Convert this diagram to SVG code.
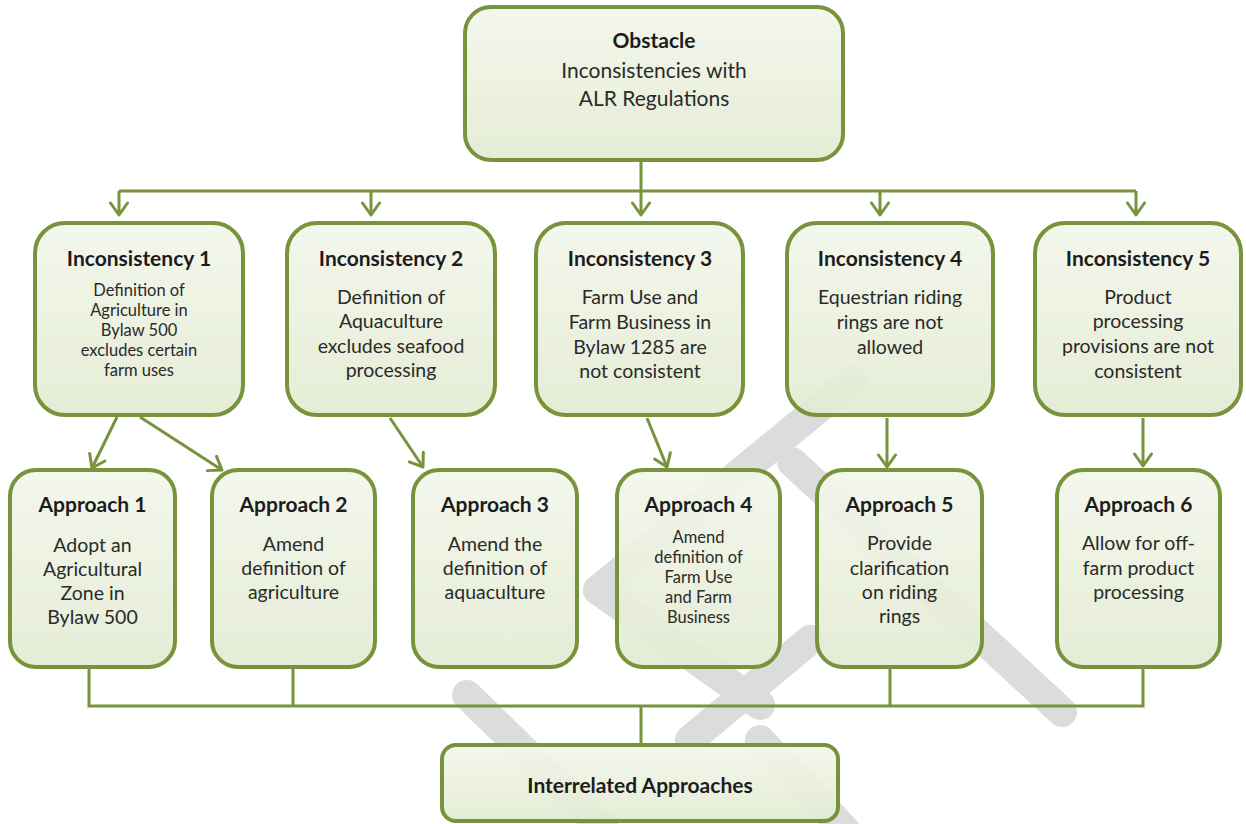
<svg xmlns="http://www.w3.org/2000/svg" width="1246" height="824" viewBox="0 0 1246 824">
<defs>
  <linearGradient id="fillG" x1="0" y1="0" x2="0" y2="1">
    <stop offset="0" stop-color="#f3f6eb"/>
    <stop offset="1" stop-color="#e3ebd2"/>
  </linearGradient>
  <marker id="arr" viewBox="-15 -11 17 22" refX="0" refY="0" markerWidth="17" markerHeight="22" markerUnits="userSpaceOnUse" orient="auto">
    <path d="M-12,-8.5 L0,0 L-12,8.5" fill="none" stroke="#77933c" stroke-width="3" stroke-linecap="round" stroke-linejoin="round"/>
  </marker>
  <style>
    .box { fill: url(#fillG); fill-opacity: 0.92; stroke: #77933c; stroke-width: 4; }
    .wm { stroke: #dcdcdc; stroke-width: 30; stroke-linecap: round; fill: none; }
    .con { stroke: #77933c; stroke-width: 3; fill: none; }
    .arrow { marker-end: url(#arr); }
    text { font-family: Lato, "Liberation Sans", sans-serif; fill: #1c1c1c; text-anchor: middle; }
    .t { font-weight: bold; font-size: 21px; }
    .b { font-size: 19.5px; fill: #2a2a2a; }
    .s { font-size: 16.5px; fill: #2a2a2a; }
    .h { font-size: 21px; fill: #2a2a2a; }
  </style>
</defs>
<rect width="1246" height="824" fill="#ffffff"/>

<g id="watermark">
  <line class="wm" x1="598" y1="590" x2="853" y2="380"/>
  <line class="wm" x1="598" y1="590" x2="760" y2="705"/>
  <line class="wm" x1="792" y1="462" x2="1062" y2="712"/>
  <line class="wm" x1="810" y1="640" x2="690" y2="740"/>
  <line class="wm" x1="467" y1="695" x2="605" y2="830"/>
  <line class="wm" x1="760" y1="740" x2="845" y2="830"/>
</g>

<g id="connectors">
  <line class="con arrow" x1="641" y1="160" x2="641" y2="215"/>
  <polyline class="con" points="119,191 1136,191"/>
  <line class="con arrow" x1="119" y1="191" x2="119" y2="215"/>
  <line class="con arrow" x1="371" y1="191" x2="371" y2="215"/>
  <line class="con arrow" x1="880" y1="191" x2="880" y2="215"/>
  <line class="con arrow" x1="1136" y1="191" x2="1136" y2="215"/>

  <line class="con arrow" x1="117" y1="417" x2="92" y2="468"/>
  <line class="con arrow" x1="140" y1="417" x2="222" y2="470"/>
  <line class="con arrow" x1="390" y1="418" x2="423" y2="467"/>
  <line class="con arrow" x1="647" y1="418" x2="667" y2="467"/>
  <line class="con arrow" x1="887" y1="418" x2="887" y2="467"/>
  <line class="con arrow" x1="1143" y1="418" x2="1143" y2="466"/>

  <polyline class="con" points="89,668 89,706 1143,706 1143,668"/>
  <line class="con" x1="293" y1="668" x2="293" y2="706"/>
  <line class="con" x1="890" y1="668" x2="890" y2="706"/>
  <line class="con" x1="641" y1="706" x2="641" y2="745"/>
</g>

<g id="obstacle">
  <rect class="box" x="465" y="7" width="378" height="153" rx="26"/>
  <text class="t" x="654" y="48">Obstacle</text>
  <text class="h" x="654" y="78">Inconsistencies with</text>
  <text class="h" x="654" y="106">ALR Regulations</text>
</g>

<g id="inc1">
  <rect class="box" x="35" y="223" width="208" height="192" rx="30"/>
  <text class="t" x="139" y="266">Inconsistency 1</text>
  <text class="s" x="139" y="296">Definition of</text>
  <text class="s" x="139" y="316">Agriculture in</text>
  <text class="s" x="139" y="336">Bylaw 500</text>
  <text class="s" x="139" y="356">excludes certain</text>
  <text class="s" x="139" y="376">farm uses</text>
</g>

<g id="inc2">
  <rect class="box" x="287" y="223" width="208" height="192" rx="30"/>
  <text class="t" x="391" y="266">Inconsistency 2</text>
  <text class="b" x="391" y="304">Definition of</text>
  <text class="b" x="391" y="328">Aquaculture</text>
  <text class="b" x="391" y="353">excludes seafood</text>
  <text class="b" x="391" y="377">processing</text>
</g>

<g id="inc3">
  <rect class="box" x="536" y="223" width="207" height="192" rx="30"/>
  <text class="t" x="640" y="266">Inconsistency 3</text>
  <text class="b" x="640" y="304">Farm Use and</text>
  <text class="b" x="640" y="329">Farm Business in</text>
  <text class="b" x="640" y="354">Bylaw 1285 are</text>
  <text class="b" x="640" y="378">not consistent</text>
</g>

<g id="inc4">
  <rect class="box" x="787" y="223" width="206" height="192" rx="30"/>
  <text class="t" x="890" y="266">Inconsistency 4</text>
  <text class="b" x="890" y="304">Equestrian riding</text>
  <text class="b" x="890" y="329">rings are not</text>
  <text class="b" x="890" y="354">allowed</text>
</g>

<g id="inc5">
  <rect class="box" x="1035" y="223" width="206" height="192" rx="30"/>
  <text class="t" x="1138" y="266">Inconsistency 5</text>
  <text class="b" x="1138" y="304">Product</text>
  <text class="b" x="1138" y="328">processing</text>
  <text class="b" x="1138" y="353">provisions are not</text>
  <text class="b" x="1138" y="378">consistent</text>
</g>

<g id="app1">
  <rect class="box" x="10" y="470" width="165" height="197" rx="26"/>
  <text class="t" x="92.5" y="512">Approach 1</text>
  <text class="b" x="92.5" y="552">Adopt an</text>
  <text class="b" x="92.5" y="576">Agricultural</text>
  <text class="b" x="92.5" y="600">Zone in</text>
  <text class="b" x="92.5" y="624">Bylaw 500</text>
</g>

<g id="app2">
  <rect class="box" x="212" y="470" width="163" height="197" rx="26"/>
  <text class="t" x="293.5" y="512">Approach 2</text>
  <text class="b" x="293.5" y="551">Amend</text>
  <text class="b" x="293.5" y="575">definition of</text>
  <text class="b" x="293.5" y="599">agriculture</text>
</g>

<g id="app3">
  <rect class="box" x="413" y="470" width="164" height="197" rx="26"/>
  <text class="t" x="495" y="512">Approach 3</text>
  <text class="b" x="495" y="551">Amend the</text>
  <text class="b" x="495" y="575">definition of</text>
  <text class="b" x="495" y="599">aquaculture</text>
</g>

<g id="app4">
  <rect class="box" x="617" y="470" width="163" height="197" rx="26"/>
  <text class="t" x="698.5" y="512">Approach 4</text>
  <text class="s" x="698.5" y="543">Amend</text>
  <text class="s" x="698.5" y="563">definition of</text>
  <text class="s" x="698.5" y="583">Farm Use</text>
  <text class="s" x="698.5" y="603">and Farm</text>
  <text class="s" x="698.5" y="623">Business</text>
</g>

<g id="app5">
  <rect class="box" x="817" y="470" width="165" height="197" rx="26"/>
  <text class="t" x="899.5" y="512">Approach 5</text>
  <text class="b" x="899.5" y="550">Provide</text>
  <text class="b" x="899.5" y="575">clarification</text>
  <text class="b" x="899.5" y="599">on riding</text>
  <text class="b" x="899.5" y="623">rings</text>
</g>

<g id="app6">
  <rect class="box" x="1057" y="470" width="163" height="197" rx="26"/>
  <text class="t" x="1138.5" y="512">Approach 6</text>
  <text class="b" x="1138.5" y="550">Allow for off-</text>
  <text class="b" x="1138.5" y="575">farm product</text>
  <text class="b" x="1138.5" y="599">processing</text>
</g>

<g id="interrelated">
  <rect class="box" x="442" y="745" width="396" height="76" rx="14"/>
  <text class="t" x="640" y="793">Interrelated Approaches</text>
</g>
</svg>
